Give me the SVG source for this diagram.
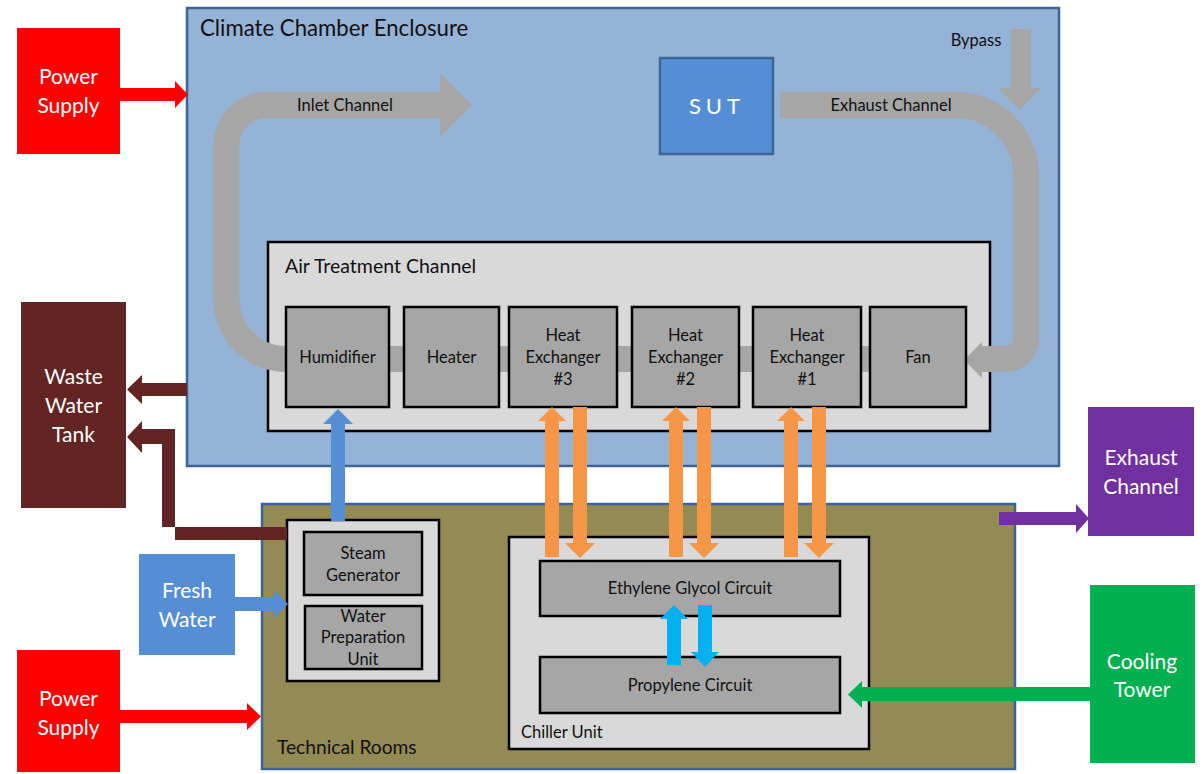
<svg xmlns="http://www.w3.org/2000/svg" width="1203" height="774" viewBox="0 0 1203 774">
<style>
text{font-family:Lato,"Liberation Sans",sans-serif;}
.lbl{font-size:16.5px;fill:#111;text-anchor:middle;}
.big{font-size:21px;fill:#fff;text-anchor:middle;}
.title{fill:#111;}
.box{fill:#A6A6A6;stroke:#000;stroke-width:2.5;}
.panel{fill:#D9D9D9;stroke:#000;stroke-width:2.5;}
.band{fill:none;stroke:#A6A6A6;stroke-width:26;}
.orange{fill:#F79646;}
.cyan{fill:#00B0F0;}
</style>
<rect width="1203" height="774" fill="#fff"/>

<g id="enclosure">
<rect x="187" y="8" width="872" height="458" fill="#95B3D7" stroke="#3C6494" stroke-width="2.5"/>
<text class="title" x="200" y="36" style="font-size:22.2px">Climate Chamber Enclosure</text>
</g>

<g id="technical-rooms">
<rect x="262" y="504" width="753" height="265" fill="#948A54" stroke="#3C6494" stroke-width="2.5"/>
<text class="title" x="277" y="754" style="font-size:19.2px">Technical Rooms</text>
</g>

<g id="air-treatment-channel">
<rect class="panel" x="268" y="242" width="722" height="189"/>
<text class="title" x="285" y="273" style="font-size:19.5px">Air Treatment Channel</text>
</g>

<g id="channels">
<rect x="286" y="346" width="680" height="26" fill="#A6A6A6"/>
<path class="band" d="M292 359 L286.5 359 A60 60 0 0 1 226.5 299 L226.5 145 A40 40 0 0 1 266.5 105 L441 105"/>
<polygon points="440,73 472,105 440,137" fill="#A6A6A6"/>
<path class="band" d="M780 105 L956 105 A70 70 0 0 1 1026 175 L1026 339 A20 20 0 0 1 1006 359 L981 359"/>
<polygon points="982,342 964,360 982,378" fill="#A6A6A6"/>
<rect x="1011" y="29" width="20" height="60" fill="#A6A6A6"/>
<polygon points="998,88 1041,88 1019.5,110" fill="#A6A6A6"/>
<text class="lbl" x="345" y="111">Inlet Channel</text>
<text class="lbl" x="891" y="111">Exhaust Channel</text>
<text class="lbl" x="976" y="46">Bypass</text>
</g>

<g id="sut">
<rect x="660" y="58" width="113" height="96" fill="#558ED5" stroke="#3C6494" stroke-width="2.5"/>
<text x="717" y="114" fill="#fff" text-anchor="middle" style="font-size:22px;letter-spacing:5px">SUT</text>
</g>

<g id="humidifier"><rect class="box" x="286" y="307" width="103" height="100"/><text class="lbl" x="337.5" y="363">Humidifier</text></g>
<g id="heater"><rect class="box" x="404" y="307" width="95" height="100"/><text class="lbl" x="451.5" y="363">Heater</text></g>
<g id="hx3"><rect class="box" x="509" y="307" width="108" height="100"/><text class="lbl" x="563" y="341">Heat</text><text class="lbl" x="563" y="363">Exchanger</text><text class="lbl" x="563" y="385">#3</text></g>
<g id="hx2"><rect class="box" x="632" y="307" width="107" height="100"/><text class="lbl" x="685.5" y="341">Heat</text><text class="lbl" x="685.5" y="363">Exchanger</text><text class="lbl" x="685.5" y="385">#2</text></g>
<g id="hx1"><rect class="box" x="753" y="307" width="108" height="100"/><text class="lbl" x="807" y="341">Heat</text><text class="lbl" x="807" y="363">Exchanger</text><text class="lbl" x="807" y="385">#1</text></g>
<g id="fan"><rect class="box" x="870" y="307" width="96" height="100"/><text class="lbl" x="918" y="363">Fan</text></g>

<g id="steam-water-unit">
<rect class="panel" x="287" y="520" width="152" height="161"/>
</g>
<g id="steam-generator"><rect class="box" x="304" y="532" width="118" height="63"/><text class="lbl" x="363" y="559">Steam</text><text class="lbl" x="363" y="581">Generator</text></g>
<g id="water-preparation"><rect class="box" x="305" y="606" width="117" height="63"/><text class="lbl" x="363" y="622">Water</text><text class="lbl" x="363" y="643">Preparation</text><text class="lbl" x="363" y="665">Unit</text></g>

<g id="chiller-unit">
<rect class="panel" x="509" y="537" width="360" height="212"/>
<text x="521" y="738" style="font-size:16.5px;fill:#111;text-anchor:start">Chiller Unit</text>
</g>
<g id="ethylene-glycol"><rect class="box" x="540" y="561" width="300" height="55"/><text class="lbl" x="690" y="594">Ethylene Glycol Circuit</text></g>
<g id="propylene"><rect class="box" x="540" y="657" width="300" height="56"/><text class="lbl" x="690" y="691">Propylene Circuit</text></g>

<g id="power-supply-top"><rect x="17" y="28" width="103" height="126" fill="#FF0000"/><text class="big" x="68.5" y="84">Power</text><text class="big" x="68.5" y="113">Supply</text></g>
<g id="power-supply-bottom"><rect x="17" y="650" width="103" height="122" fill="#FF0000"/><text class="big" x="68.5" y="706">Power</text><text class="big" x="68.5" y="735">Supply</text></g>
<g id="waste-water-tank"><rect x="21" y="302" width="105" height="206" fill="#632523"/><text class="big" x="73.5" y="384">Waste</text><text class="big" x="73.5" y="413">Water</text><text class="big" x="73.5" y="442">Tank</text></g>
<g id="fresh-water"><rect x="139" y="554" width="96" height="101" fill="#558ED5"/><text class="big" x="187" y="598">Fresh</text><text class="big" x="187" y="627">Water</text></g>
<g id="exhaust-channel"><rect x="1088" y="407" width="106" height="129" fill="#7030A0"/><text class="big" x="1141" y="465">Exhaust</text><text class="big" x="1141" y="494">Channel</text></g>
<g id="cooling-tower"><rect x="1090" y="585" width="105" height="178" fill="#00B050"/><text class="big" x="1142" y="669">Cooling</text><text class="big" x="1142" y="697">Tower</text></g>

<g id="connectors">
<polygon fill="#FF0000" points="120,88 175,88 175,81 188,94.5 175,108 175,101 120,101"/>
<polygon fill="#FF0000" points="120,710 247,710 247,703 261,716.5 247,730 247,723 120,723"/>
<polygon fill="#558ED5" points="235,597 274,597 274,590 288,604 274,618 274,611 235,611"/>
<polygon fill="#632523" points="187,383 142,383 142,375 127,389.5 142,404 142,396 187,396"/>
<polygon fill="#632523" points="287,527 162,527 162,444 142,444 142,453 127,437 142,421 142,429 175,429 175,540 287,540"/>
<polygon fill="#7030A0" points="999,512 1076,512 1076,504 1089,518.5 1076,533 1076,525 999,525"/>
<polygon fill="#00B050" points="1090,687 862,687 862,681 848,694.5 862,708 862,701 1090,701"/>
<polygon fill="#558ED5" points="331,521 331,424 323,424 338,409 353,424 345,424 345,521"/>
<g class="orange">
<polygon points="545,557 545,421 538,421 552,407 566,421 559,421 559,557"/>
<polygon points="573,407 587,407 587,543 595,543 580,558 565,543 573,543"/>
<polygon points="669,557 669,421 662,421 676,407 690,421 683,421 683,557"/>
<polygon points="697,407 711,407 711,543 719,543 704,558 689,543 697,543"/>
<polygon points="784,557 784,421 777,421 791,407 805,421 798,421 798,557"/>
<polygon points="812,407 826,407 826,543 834,543 819,558 804,543 812,543"/>
</g>
<g class="cyan">
<polygon points="667,665 667,619 660,619 674,605 688,619 681,619 681,665"/>
<polygon points="698,605 712,605 712,652 719,652 705,667 691,652 698,652"/>
</g>
</g>
</svg>
